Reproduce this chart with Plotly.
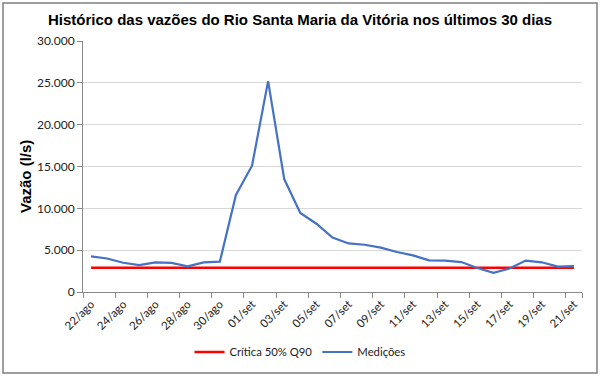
import plotly.graph_objects as go

datas = ["22/ago","23/ago","24/ago","25/ago","26/ago","27/ago","28/ago","29/ago","30/ago","31/ago",
         "01/set","02/set","03/set","04/set","05/set","06/set","07/set","08/set","09/set","10/set",
         "11/set","12/set","13/set","14/set","15/set","16/set","17/set","18/set","19/set","20/set","21/set"]
medicoes = [4250, 4000, 3500, 3220, 3540, 3470, 3070, 3540, 3620, 11600,
            15100, 25200, 13500, 9450, 8160, 6500, 5800, 5650, 5300, 4780,
            4380, 3780, 3740, 3580, 2870, 2300, 2800, 3750, 3550, 3040, 3100]
critica = [2900] * len(datas)
ytick_vals = [0, 5000, 10000, 15000, 20000, 25000, 30000]

fig = go.Figure()
fig.add_trace(go.Scatter(x=datas, y=critica, mode="lines", name="Crítica 50% Q90",
                         line=dict(color="#ff0000", width=2.3)))
fig.add_trace(go.Scatter(x=datas, y=medicoes, mode="lines", name="Medições",
                         line=dict(color="#4472c4", width=2.2)))

L, R, T, B = 83, 18, 41, 84
W, H = 600, 376
pw, ph = W - L - R, H - T - B

fig.update_layout(
    width=W, height=H,
    margin=dict(l=L, r=R, t=T, b=B, autoexpand=False),
    paper_bgcolor="white", plot_bgcolor="white",
    separators=",.",
    title=dict(text="<b>Histórico das vazões do Rio Santa Maria da Vitória nos últimos 30 dias</b>",
               x=0.5, xanchor="center", y=1 - 20 / H, yanchor="middle",
               font=dict(family="Liberation Sans, Arial", size=15, color="black")),
    legend=dict(orientation="h", xref="container", x=0.5, xanchor="center", yref="container",
                y=1 - 352 / H, yanchor="middle",
                font=dict(family="Lato, Calibri, sans-serif", size=11.3, color="#222"),
                itemwidth=30),
    showlegend=True,
    annotations=[dict(text="<b>Vazão (l/s)</b>", textangle=-90, showarrow=False,
                      xref="paper", yref="paper",
                      x=-(L - 25) / pw, y=(292 - 177) / ph, xanchor="center", yanchor="middle",
                      font=dict(family="Liberation Sans, Arial", size=15, color="black"))],
    shapes=[dict(type="rect", xref="paper", yref="paper",
                 x0=-(L - 3) / pw, x1=1 + (R - 3) / pw,
                 y0=-(B - 3) / ph, y1=1 + (T - 3) / ph,
                 line=dict(color="#7f7f7f", width=1.5), fillcolor="rgba(0,0,0,0)", layer="below")],
)
fig.update_xaxes(
    type="category", tickmode="array", tickvals=datas[::2], ticktext=datas[::2],
    tickson="boundaries", ticks="outside", ticklen=5, tickcolor="#888",
    tickangle=-45, showgrid=False, showline=True, linecolor="#888", linewidth=1,
    tickfont=dict(family="Lato, Calibri, sans-serif", size=11.5, color="#222"),
    range=[-0.5, len(datas) - 0.5], automargin=False,
)
fig.update_yaxes(
    range=[0, 30000], tickvals=ytick_vals, tickformat=",d",
    ticks="outside", ticklen=5, tickcolor="#888",
    showgrid=True, gridcolor="#d9d9d9", gridwidth=1,
    showline=True, linecolor="#888", linewidth=1, zeroline=False,
    tickfont=dict(family="Lato, Calibri, sans-serif", size=12, color="#222"),
    automargin=False,
)
fig.write_html("out.html", config={"displayModeBar": False},
               post_script="document.body.style.margin='0';")
